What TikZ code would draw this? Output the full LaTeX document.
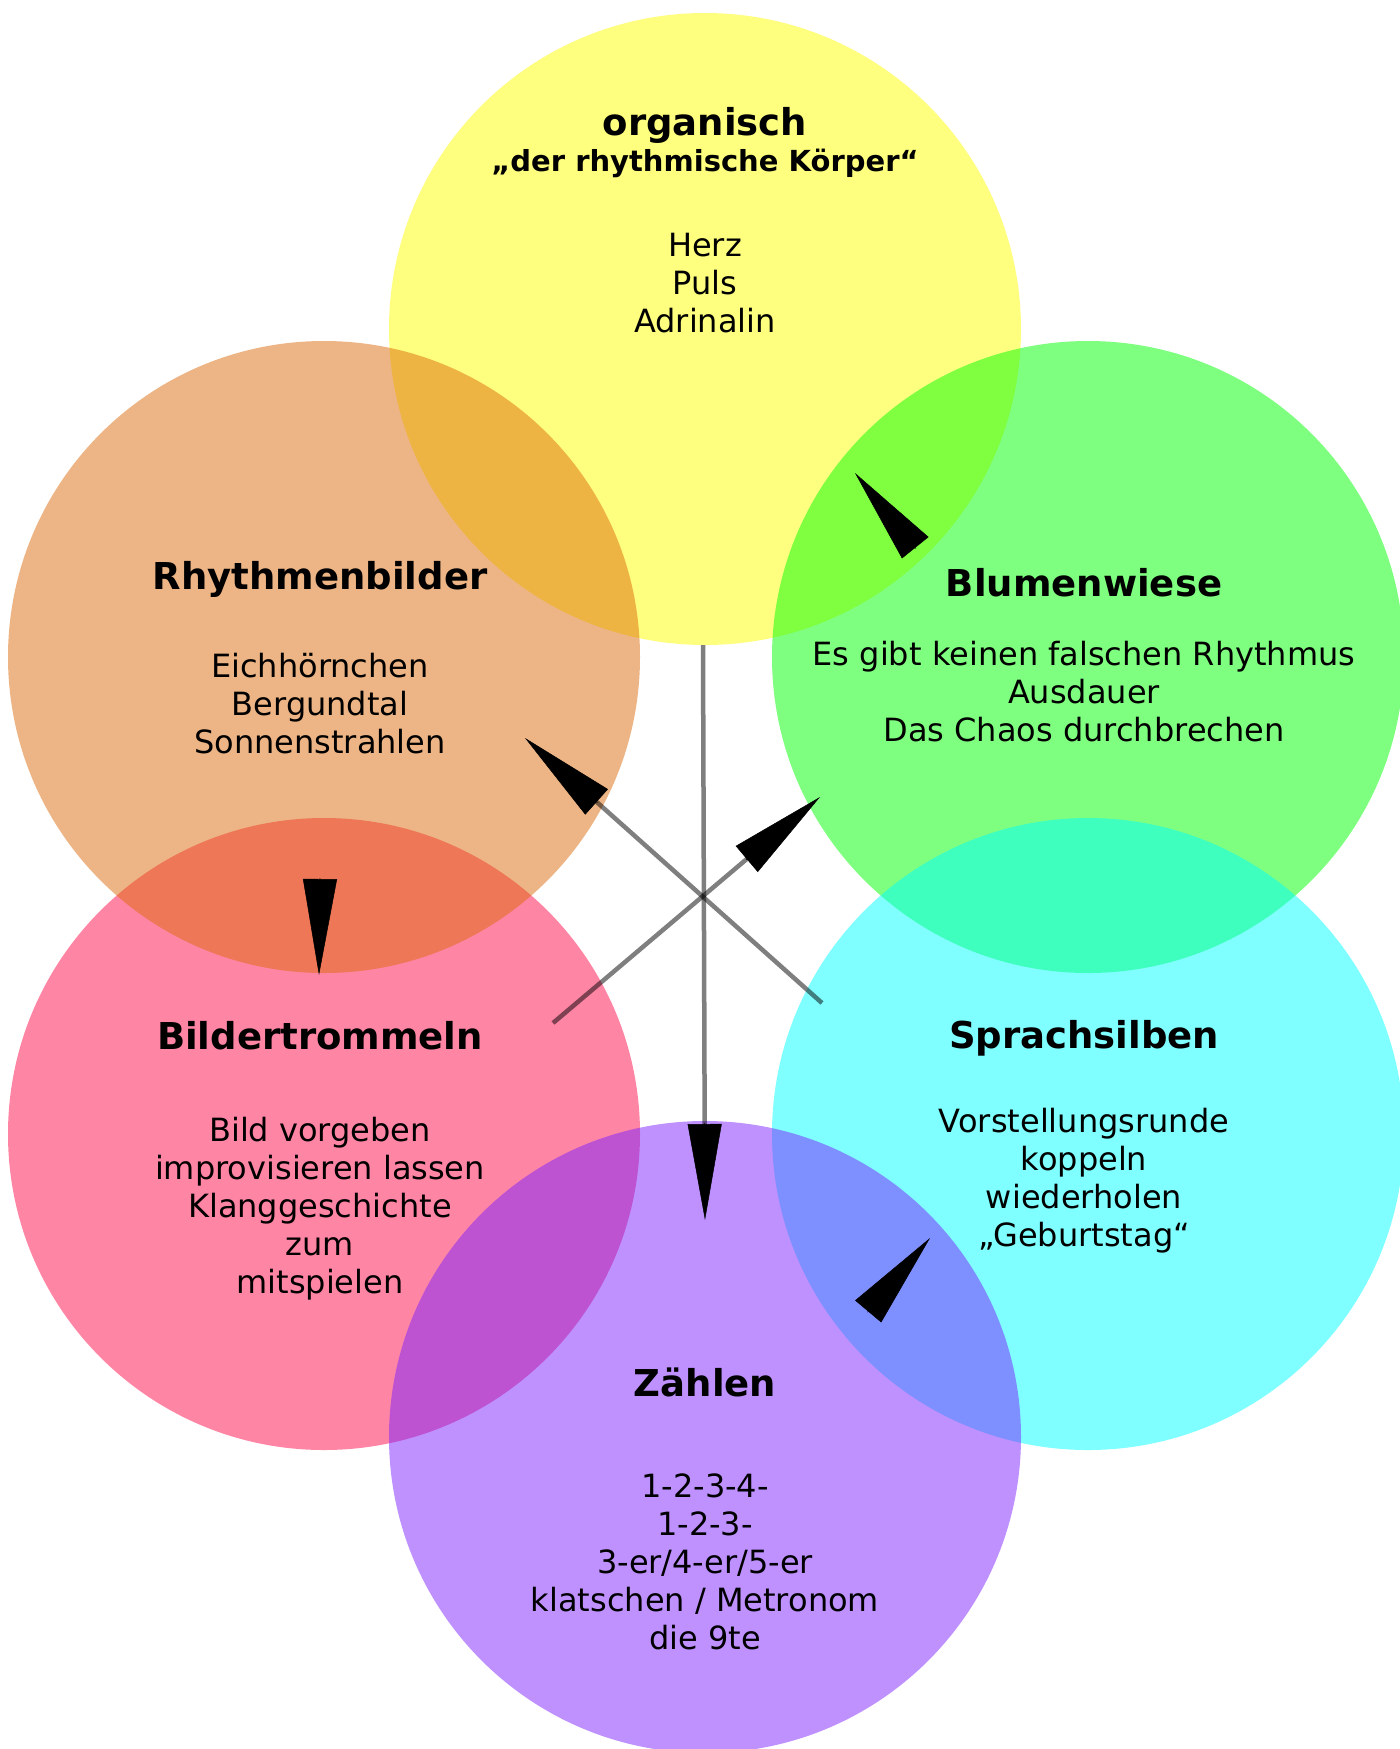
\documentclass[tikz,border=0pt]{standalone}
\usepackage{fontspec}
\setmainfont{DejaVu Sans}
\usetikzlibrary{arrows.meta,calc}
\definecolor{cYellow}{RGB}{255,255,0}
\definecolor{cOrange}{RGB}{219,107,11}
\definecolor{cPink}{RGB}{255,11,75}
\definecolor{cGreen}{RGB}{0,255,0}
\definecolor{cCyan}{RGB}{0,255,255}
\definecolor{cPurple}{RGB}{127,35,255}
\begin{document}
\begin{tikzpicture}[x=1pt,y=-1pt,
  blob/.style={circle, minimum size=632pt, inner sep=0pt, fill=#1, fill opacity=0.5, draw=none},
  mytitle/.style={anchor=base, inner sep=0pt, font=\bfseries\fontsize{37}{44}\selectfont},
  mysub/.style={anchor=base, inner sep=0pt, font=\bfseries\fontsize{29}{34}\selectfont},
  bodytxt/.style={anchor=north, align=center, inner sep=0pt, font=\fontsize{32}{38}\selectfont},
  linkline/.style={draw=black, draw opacity=0.5, line width=4.5pt, shorten >=60pt},
  tiphead/.style={-{Triangle[length=96pt,width=34pt]}, line width=0.5pt, draw=black, fill=black},
]
\useasboundingbox (0,0) rectangle (1400,1749);
\clip (0,0) rectangle (1400,1749);

% circles
\node[blob=cYellow] (yellow) at (705,329) {};
\node[blob=cPink]   (pink)   at (324,1134) {};
\node[blob=cOrange] (orange) at (324,657) {};
\node[blob=cGreen]  (green)  at (1088,657) {};
\node[blob=cCyan]   (cyan)   at (1088,1134) {};
\node[blob=cPurple] (purple) at (705,1437) {};

% connector end points
\coordinate (sZ)  at ([xshift=-2pt]yellow.south);
\coordinate (tZ)  at (705,1220);
\coordinate (tP)  at (319,975);   \coordinate (bP) at (320,878);
\coordinate (tG)  at (855,473);   \coordinate (bG) at (915.5,548);
\coordinate (sPG) at (553,1023);  \coordinate (tPG) at (820,797);
\coordinate (sCO) at (822,1003);  \coordinate (tCO) at (525,738);
\coordinate (tC)  at (930,1238);  \coordinate (bC) at (868.5,1311);

% lines
\draw[linkline] (sZ) -- (tZ);
\draw[linkline] (sPG) -- (tPG);
\draw[linkline] (sCO) -- (tCO);

% heads
\draw[tiphead] ($(tZ)!97pt!(sZ)$) -- (tZ);
\draw[tiphead] ($(tPG)!97pt!(sPG)$) -- (tPG);
\draw[tiphead] ($(tCO)!97pt!(sCO)$) -- (tCO);
\draw[tiphead] ($(tP)!97pt!(bP)$) -- (tP);
\draw[tiphead] ($(tG)!97pt!(bG)$) -- (tG);
\draw[tiphead] ($(tC)!97pt!(bC)$) -- (tC);

% texts
\node[mytitle] (t1) at (705,135) {organisch};
\node[mysub] (t1s) at (705,171) {„der rhythmische Körper“};
\node[bodytxt] (b1) at (705,233) {Herz\\Puls\\Adrinalin};

\node[mytitle] (t2) at (320,589) {Rhythmenbilder};
\node[bodytxt] (b2) at (320,653) {Eichhörnchen\\Bergundtal\\Sonnenstrahlen};

\node[mytitle] (t3) at (1084,596) {Blumenwiese};
\node[bodytxt] (b3) at (1084,641) {Es gibt keinen falschen Rhythmus\\Ausdauer\\Das Chaos durchbrechen};

\node[mytitle] (t4) at (320,1049) {Bildertrommeln};
\node[bodytxt] (b4) at (320,1117) {Bild vorgeben\\improvisieren lassen\\Klanggeschichte\\zum\\mitspielen};

\node[mytitle] (t5) at (1084,1048) {Sprachsilben};
\node[bodytxt] (b5) at (1084,1108) {Vorstellungsrunde\\koppeln\\wiederholen\\„Geburtstag“};

\node[mytitle] (t6) at (705,1396) {Zählen};
\node[bodytxt] (b6) at (705,1474) {1-2-3-4-\\1-2-3-\\3-er/4-er/5-er\\klatschen / Metronom\\die 9te};
\end{tikzpicture}
\end{document}
